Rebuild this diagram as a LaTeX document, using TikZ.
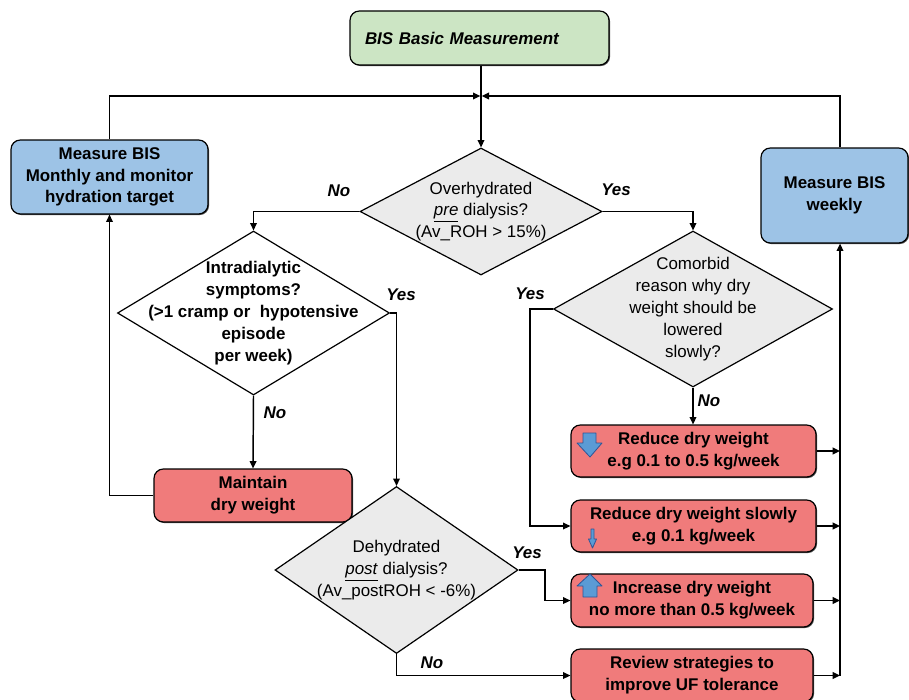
\documentclass[tikz,border=0pt]{standalone}
\usepackage{fontspec}
\setmainfont{Liberation Sans}
\usetikzlibrary{arrows.meta,shapes.geometric,shadows}
\definecolor{cgreen}{RGB}{204,229,196}
\definecolor{cblue}{RGB}{157,195,230}
\definecolor{cred}{RGB}{240,123,123}
\definecolor{cgrey}{RGB}{235,235,235}
\definecolor{iconfill}{RGB}{91,155,213}
\definecolor{iconline}{RGB}{47,85,151}
\newcommand\myfs{\fontsize{12.7}{16.4}\selectfont}
\begin{document}
\begin{tikzpicture}[x=0.75pt,y=-0.75pt,
  every node/.style={font=\myfs},
  box/.style={draw=black, line width=0.9pt, rounded corners=7pt, inner sep=0pt, align=center,
    font=\myfs\bfseries,
    general shadow={fill=black!70, shadow xshift=0.8pt, shadow yshift=-0.8pt}},
  dia/.style={diamond, draw=black, line width=0.9pt, inner sep=0pt},
  dtext/.style={align=center, inner sep=0pt, font=\myfs},
  lab/.style={inner sep=0pt, font=\myfs\bfseries\itshape},
  line/.style={draw=black, line width=1.1pt},
  arr/.style={line, -{Triangle[length=5.5pt,width=5pt]}},
  icon/.style={draw=iconline, fill=iconfill, line width=0.6pt, line join=round}
]
\useasboundingbox (0,0) rectangle (909,699);

% boxes
\node[box, fill=cgreen, minimum width=194.25pt, minimum height=40.5pt,
      text width=171.75pt, align=left, inner xsep=11.25pt, font=\myfs\bfseries\itshape]
      (top) at (479.5,38) {BIS Basic Measurement};
\node[box, fill=cblue, minimum width=147.75pt, minimum height=55.5pt]
      (monthly) at (109.5,177) {Measure BIS\\Monthly and monitor\\hydration target};
\node[box, fill=cblue, minimum width=110.25pt, minimum height=71.25pt]
      (weekly) at (834.5,195.5) {Measure BIS\\weekly};
\node[box, fill=cred, minimum width=148.5pt, minimum height=39.75pt]
      (maintain) at (253,495.5) {Maintain\\dry weight};
\node[box, fill=cred, minimum width=183.75pt, minimum height=39pt]
      (reduce) at (693.5,451) {Reduce dry weight\\e.g 0.1 to 0.5 kg/week};
\node[box, fill=cred, minimum width=183.75pt, minimum height=39pt]
      (slowly) at (693.5,526) {Reduce dry weight slowly\\e.g 0.1 kg/week};
\node[box, fill=cred, minimum width=181.5pt, minimum height=39.75pt]
      (increase) at (692,600.5) {Increase dry weight\\no more than 0.5 kg/week};
\node[box, fill=cred, minimum width=181.5pt, minimum height=39.75pt]
      (review) at (692,675.5) {Review strategies to\\improve UF tolerance};

% diamonds
\node[dia, fill=cgrey, minimum width=181.5pt, minimum height=95.25pt] (d1) at (481,211.5) {};
\node[dtext] (d1t) at (d1.center) {Overhydrated\\\underline{\textit{pre}} dialysis?\\(Av\_ROH > 15\%)};
\node[dia, fill=white, minimum width=204pt, minimum height=123pt] (d2) at (253.5,313) {};
\node[dtext, font=\myfs\bfseries] (d2t) at (d2.center) {Intradialytic\\symptoms?\\(>1 cramp or\ \ hypotensive\\episode\\per week)};
\node[dia, fill=cgrey, minimum width=209.25pt, minimum height=117pt] (d3) at (693,309) {};
\node[dtext] (d3t) at (d3.center) {Comorbid\\reason why dry\\weight should be\\lowered\\slowly?};
\node[dia, fill=cgrey, minimum width=182.25pt, minimum height=125.25pt] (d4) at (396.5,570) {};
\node[dtext] (d4t) at (d4.center) {Dehydrated\\\underline{\textit{post}} dialysis?\\(Av\_postROH < -6\%)};

% icons
\draw[icon] (583,433) -- (596,433) -- (596,443) -- (602,443) -- (590,457) -- (577,443) -- (583,443) -- cycle;
\draw[icon] (591,529) -- (594,529) -- (594,539) -- (596.5,539) -- (592.5,548) -- (588.5,539) -- (591,539) -- cycle;
\draw[icon] (590,574) -- (602,586) -- (597,586) -- (597,597) -- (583,597) -- (583,586) -- (577,586) -- cycle;

% junction at top
\coordinate (J) at (481,96);
\coordinate (bus) at (840,675.5);
\coordinate (cY) at (530,309);
\coordinate (dY) at (545,570);

\draw[line] (top.south -| J) -- (J);
\draw[arr] (J) -- (d1.north);
\draw[arr, line width=0.9pt] (monthly.north) |- ([xshift=-0.5pt]J);
\draw[arr, line width=0.9pt] (weekly.north -| bus) |- ([xshift=0.5pt]J);

\draw[arr] (d1.west) -| (d2.north);
\draw[arr] (d1.east) -| (d3.north);
\draw[arr] (d2.east) -| (d4.north);
\draw[arr] (d2.south) -- (maintain.north);
\draw[arr] (maintain.west) -| (monthly.south);
\draw[arr] (d3.south) -- (reduce.north -| d3.south);
\draw[arr] (d3.west) -- (cY) |- (slowly.west);
\draw[arr] (d4.east) -- (dY) |- (increase.west);
\draw[arr] (d4.south) |- (review.west);

% right bus
\draw[arr] (bus) -- (bus |- weekly.south);
\draw[arr] (reduce.east) -- (reduce.east -| bus);
\draw[arr] (slowly.east) -- (slowly.east -| bus);
\draw[arr] (increase.east) -- (increase.east -| bus);
\draw[arr] (review.east) -- (bus);

% labels
\node[lab] (l1) at (339,191) {No};
\node[lab] (l2) at (616,190) {Yes};
\node[lab] (l3) at (401,295) {Yes};
\node[lab] (l4) at (275,413) {No};
\node[lab] (l5) at (530,294) {Yes};
\node[lab] (l6) at (709,401) {No};
\node[lab] (l7) at (527,553) {Yes};
\node[lab] (l8) at (432,663) {No};
\end{tikzpicture}
\end{document}
